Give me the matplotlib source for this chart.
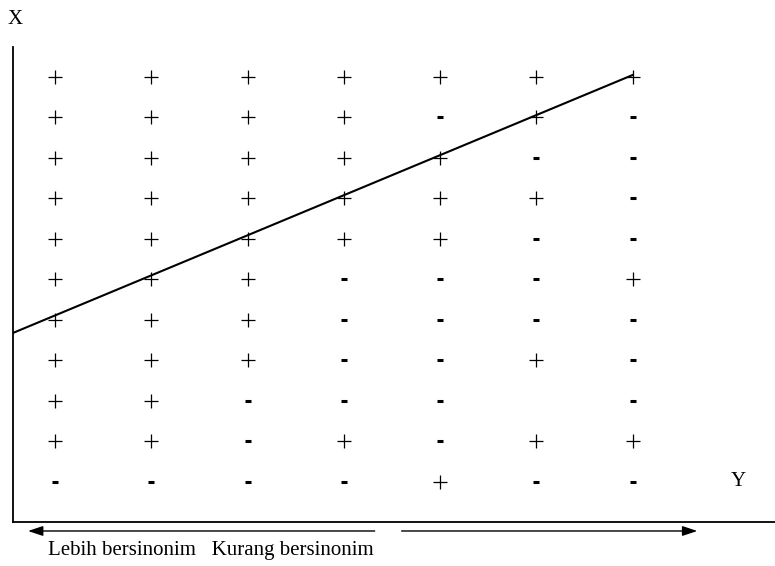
import matplotlib
matplotlib.use("Agg")
import matplotlib.pyplot as plt

plt.rcParams['font.family'] = ['Liberation Serif', 'DejaVu Serif']

# Grid of signs: rows from top (row 1) to bottom (row 11), 7 columns
columns = [1, 2, 3, 4, 5, 6, 7]
rows = [
    "+++++++",
    "++++-+-",
    "+++++--",
    "++++++-",
    "+++++--",
    "+++---+",
    "+++----",
    "+++--+-",
    "++--- -",
    "++-+-++",
    "----+--",
]
# Regression-like line endpoints (data coords)
line_x = [0.564, 7.0]
line_y = [4.68, 11.05]

x_label = "X"
y_label = "Y"
caption = "Lebih bersinonim   Kurang bersinonim"

W, H = 775, 566
fig = plt.figure(figsize=(W / 100, H / 100), dpi=100)
ax = fig.add_axes([13 / W, (H - 522) / H, (W - 13) / W, (522 - 47) / H])
ax.set_xlim(0.564, 8.477)
ax.set_ylim(0.012, 11.74)
ax.spines['top'].set_visible(False)
ax.spines['right'].set_visible(False)
ax.spines['left'].set_linewidth(1.3)
ax.spines['bottom'].set_linewidth(1.3)
ax.set_xticks([])
ax.set_yticks([])

n = len(rows)
px, py, mx, my = [], [], [], []
for j, r in enumerate(rows):
    yv = n - j
    for i, ch in enumerate(r):
        if ch == '+':
            px.append(columns[i]); py.append(yv)
        elif ch == '-':
            mx.append(columns[i]); my.append(yv)

ax.plot(px, py, linestyle='none', marker='+', markersize=10, markeredgewidth=0.9, color='black')
ax.plot(mx, my, linestyle='none', marker='_', markersize=4.2, markeredgewidth=2.2, color='black')
ax.plot(line_x, line_y, color='black', linewidth=1.5)

# Arrows below axis
arrow_y = -0.21
ax.annotate('', xy=(0.72, arrow_y), xytext=(4.32, arrow_y), xycoords='data',
            arrowprops=dict(arrowstyle='-|>,head_length=0.9,head_width=0.3', color='black', lw=1.0,
                            shrinkA=0, shrinkB=0), annotation_clip=False)
ax.annotate('', xy=(7.67, arrow_y), xytext=(4.60, arrow_y), xycoords='data',
            arrowprops=dict(arrowstyle='-|>,head_length=0.9,head_width=0.3', color='black', lw=1.0,
                            shrinkA=0, shrinkB=0), annotation_clip=False)

fig.text(15 / W, 1 - 20 / H, x_label, fontsize=15, ha='center', va='center')
fig.text(738 / W, 1 - 482 / H, y_label, fontsize=15, ha='center', va='center')
fig.text(48 / W, 1 - 551 / H, caption, fontsize=15, ha='left', va='center')

fig.savefig('out.png', dpi=100)
